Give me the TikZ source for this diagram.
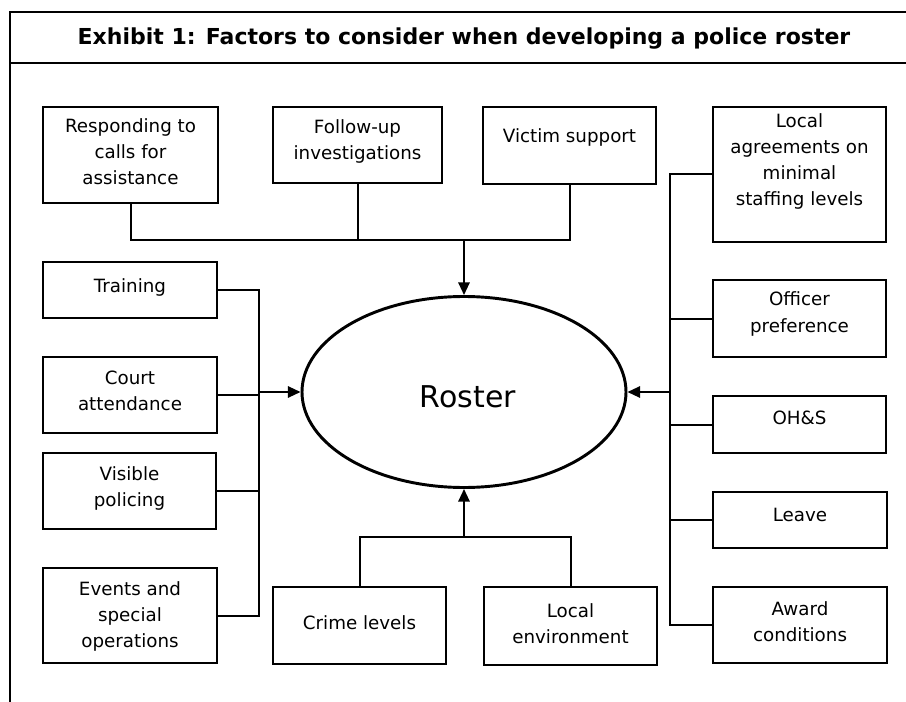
\documentclass[tikz,border=0pt]{standalone}
\usepackage{fontspec}
\setmainfont{DejaVu Sans}
\usetikzlibrary{shapes.geometric,arrows.meta}
\newdimen\px \px=0.75pt
\tikzset{
  fbox/.style={draw, line width=0.9pt, inner sep=0pt, outer sep=0pt, anchor=north west,
    font=\fontsize{13.7}{19.5}\selectfont},
  conn/.style={line width=1.5pt},
  arr/.style={line width=1.5pt, -{Triangle[length=9.5pt,width=8.5pt]}},
  frame/.style={line width=1.8pt},
}
% name, x1, y1, width, height, first-baseline offset, text
\newcommand\fbx[7]{\node[fbox] (#1) at (#2,#3) {\parbox[c][#5\px][t]{#4\px}{\centering\rule{0pt}{#6\px}#7}};}
\begin{document}
\begin{tikzpicture}[x=0.75pt,y=-0.75pt]
\useasboundingbox (0,0) rectangle (906,702);
\clip (0,0) rectangle (906,702);
\fill[white] (0,0) rectangle (906,702);
% frame
\draw[frame] (950,12) -- (10,12) -- (10,730);
\draw[frame] (10,63) -- (950,63);
\node[anchor=base, font=\fontsize{16.5}{20}\bfseries\selectfont] (title) at (464,45) {Exhibit 1: Factors to consider when developing a police roster};
% central ellipse
\node[ellipse, draw, line width=2.2pt, minimum width=324\px, minimum height=191\px, inner sep=0pt] (roster) at (464,392) {};
\node[anchor=base, font=\fontsize{22.5}{26}\selectfont] (rostertxt) at (468,407) {Roster};
% boxes
\fbx{resp}{43}{107}{175}{96}{26}{Responding to\\calls for\\assistance}
\fbx{follow}{273}{107}{169}{76}{27}{Follow-up\\investigations}
\fbx{victim}{483}{107}{173}{77}{36}{Victim support}
\fbx{local}{713}{107}{173}{135}{21}{Local\\agreements on\\minimal\\staffing levels}
\fbx{training}{43}{262}{174}{56}{30}{Training}
\fbx{court}{43}{357}{174}{76}{27}{Court\\attendance}
\fbx{visible}{43}{453}{173}{76}{27}{Visible\\policing}
\fbx{events}{43}{568}{174}{95}{27}{Events and\\special\\operations}
\fbx{crime}{273}{587}{173}{77}{42}{Crime levels}
\fbx{localenv}{484}{587}{173}{78}{30}{Local\\environment}
\fbx{officer}{713}{280}{173}{77}{26}{Officer\\preference}
\fbx{ohs}{713}{396}{173}{57}{28}{OH\&S}
\fbx{leave}{713}{492}{174}{56}{29}{Leave}
\fbx{award}{713}{587}{174}{76}{28}{Award\\conditions}
% bus coordinates
\coordinate (topbus) at (0,240);
\coordinate (botbus) at (0,537);
\coordinate (lbus) at (259,0);
\coordinate (rbus) at (670,0);
% top group
\draw[conn] (resp.south) -- (resp.south |- topbus) -- (victim.south |- topbus) -- (victim.south);
\draw[conn] (follow.south) -- (follow.south |- topbus);
\draw[arr] (roster.north |- topbus) -- (roster.north);
% left group
\draw[conn] (training.east) -- (training.east -| lbus) -- (events.east -| lbus) -- (events.east);
\draw[conn] (court.east) -- (court.east -| lbus);
\draw[conn] (visible.east) -- (visible.east -| lbus);
\draw[arr] (roster.west -| lbus) -- (roster.west);
% right group
\draw[conn] (local.west) -- (local.west -| rbus) -- (award.west -| rbus) -- (award.west);
\draw[conn] (officer.west) -- (officer.west -| rbus);
\draw[conn] (ohs.west) -- (ohs.west -| rbus);
\draw[conn] (leave.west) -- (leave.west -| rbus);
\draw[arr] (roster.east -| rbus) -- (roster.east);
% bottom group
\draw[conn] (crime.north) -- (crime.north |- botbus) -- (localenv.north |- botbus) -- (localenv.north);
\draw[arr] (roster.south |- botbus) -- (roster.south);
\end{tikzpicture}
\end{document}
